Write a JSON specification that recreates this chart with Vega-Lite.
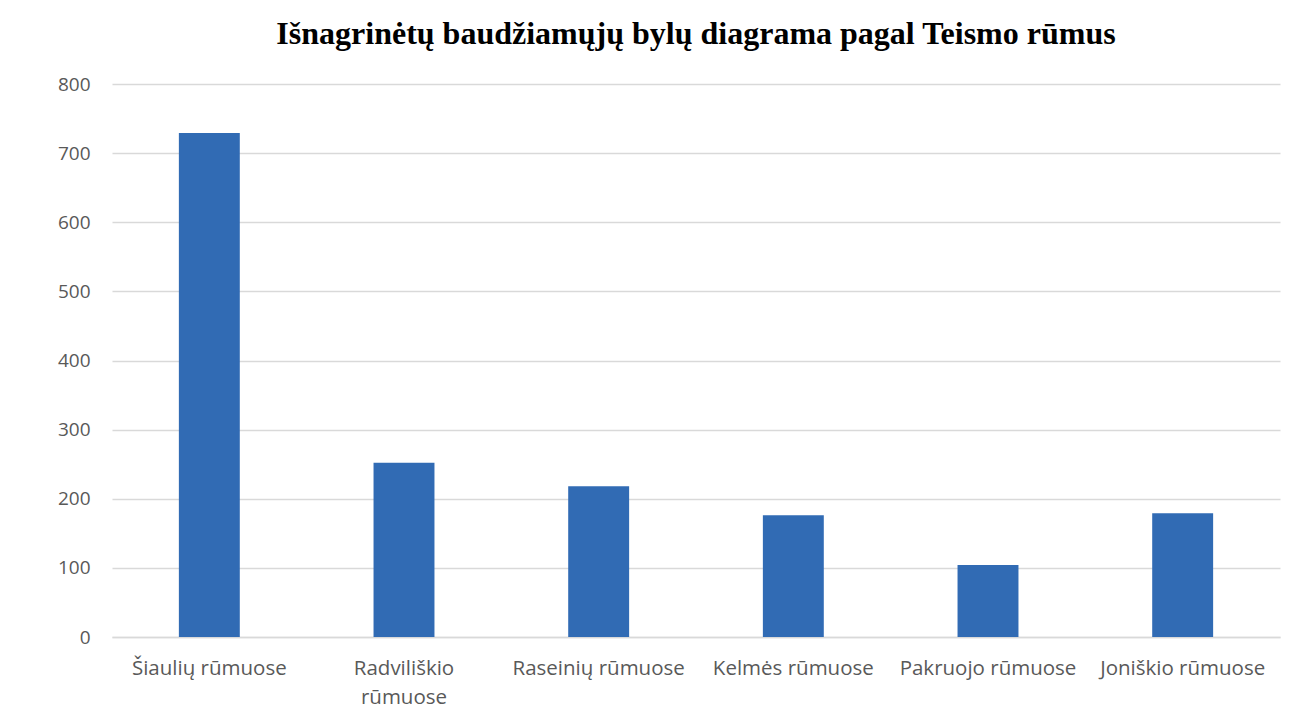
{
  "$schema": "https://vega.github.io/schema/vega-lite/v6.json",
  "width": 1168,
  "height": 553,
  "padding": {"left": 57, "top": 18, "right": 26, "bottom": 5},
  "background": "white",
  "title": {
    "text": "Išnagrinėtų baudžiamųjų bylų diagrama pagal Teismo rūmus",
    "font": "Liberation Serif",
    "fontSize": 32,
    "fontWeight": "bold",
    "color": "#000000",
    "anchor": "middle",
    "offset": 24
  },
  "data": {
    "values": [
      {"rumai": "Šiaulių rūmuose", "bylos": 729},
      {"rumai": "Radviliškio rūmuose", "bylos": 252},
      {"rumai": "Raseinių rūmuose", "bylos": 218},
      {"rumai": "Kelmės rūmuose", "bylos": 176},
      {"rumai": "Pakruojo rūmuose", "bylos": 104},
      {"rumai": "Joniškio rūmuose", "bylos": 179}
    ]
  },
  "mark": {"type": "bar", "color": "#316BB4"},
  "encoding": {
    "x": {
      "field": "rumai",
      "type": "nominal",
      "sort": null,
      "title": null,
      "scale": {"paddingInner": 0.687, "paddingOuter": 0.3435},
      "axis": {
        "labelAngle": 0,
        "labelFont": "Open Sans",
        "labelFontSize": 20.5,
        "labelColor": "#595959",
        "labelPadding": 31,
        "labelLineHeight": 29,
        "labelBaseline": "middle",
        "labelExpr": "datum.label == 'Radviliškio rūmuose' ? ['Radviliškio', 'rūmuose'] : datum.label",
        "ticks": false,
        "domain": true,
        "domainColor": "#D9D9D9",
        "domainWidth": 1.5,
        "grid": false
      }
    },
    "y": {
      "field": "bylos",
      "type": "quantitative",
      "title": null,
      "scale": {"domain": [0, 800], "nice": false},
      "axis": {
        "values": [0, 100, 200, 300, 400, 500, 600, 700, 800],
        "labelFont": "Open Sans",
        "labelFontSize": 19,
        "labelColor": "#595959",
        "labelPadding": 22,
        "ticks": false,
        "domain": false,
        "grid": true,
        "gridColor": "#D9D9D9",
        "gridWidth": 1.5
      }
    }
  },
  "config": {"view": {"stroke": null}}
}
